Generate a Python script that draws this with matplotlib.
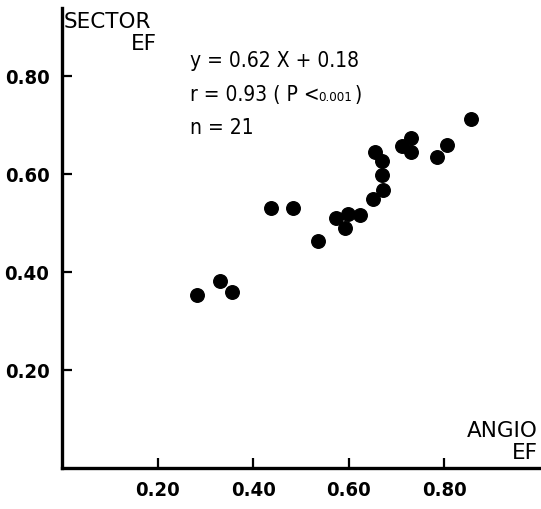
import matplotlib
matplotlib.use("Agg")
import matplotlib.pyplot as plt

# angio EF vs sector EF
angio_ef = [0.283, 0.330, 0.356, 0.438, 0.483, 0.536, 0.573, 0.599, 0.591, 0.624,
            0.650, 0.672, 0.669, 0.669, 0.655, 0.712, 0.731, 0.731, 0.784, 0.806, 0.855]
sector_ef = [0.353, 0.382, 0.360, 0.530, 0.530, 0.463, 0.511, 0.518, 0.489, 0.516,
             0.549, 0.567, 0.598, 0.627, 0.646, 0.658, 0.673, 0.646, 0.635, 0.659, 0.712]

xticks = [0.2, 0.4, 0.6, 0.8]
yticks = [0.2, 0.4, 0.6, 0.8]
ticklabels = ["0.20", "0.40", "0.60", "0.80"]

fig = plt.figure(figsize=(5.41, 5.09), dpi=100)
ax = fig.add_axes([62/541, 41/509, 479/541, 460/509])

ax.scatter(angio_ef, sector_ef, s=95, color="black", zorder=3)

ax.set_xlim(0, 1.002)
ax.set_ylim(0, 0.939)
ax.spines["top"].set_visible(False)
ax.spines["right"].set_visible(False)
ax.spines["left"].set_linewidth(2.4)
ax.spines["bottom"].set_linewidth(2.4)

tickfont = dict(family="DejaVu Sans", stretch="condensed", weight="bold", size=14.5)
ax.set_xticks(xticks)
ax.set_xticklabels(ticklabels, **tickfont)
ax.set_yticks(yticks)
ax.set_yticklabels(ticklabels, **tickfont)
ax.tick_params(direction="in", length=7, width=1.6)
ax.tick_params(axis="y", pad=9)
ax.tick_params(axis="x", pad=9)

lab = dict(family="DejaVu Sans", size=15.5, color="black")
fig.text(64/541, 1 - 28/509, "SECTOR", ha="left", va="baseline", **lab)
fig.text(157/541, 1 - 50/509, "EF", ha="right", va="baseline", **lab)
fig.text(538/541, 1 - 437/509, "ANGIO", ha="right", va="baseline", **lab)
fig.text(538/541, 1 - 459/509, "EF", ha="right", va="baseline", **lab)

eq = dict(family="DejaVu Sans", stretch="condensed", size=15, color="black")
fig.text(190/541, 1 - 67/509, "y = 0.62 X + 0.18", ha="left", va="baseline", **eq)
fig.text(190/541, 1 - 101/509, "r = 0.93 ( P <", ha="left", va="baseline", **eq)
fig.text(318/541, 1 - 101/509, "0.001", ha="left", va="baseline",
         family="DejaVu Sans", stretch="condensed", size=9.5)
fig.text(355/541, 1 - 101/509, ")", ha="left", va="baseline", **eq)
fig.text(190/541, 1 - 134/509, "n = 21", ha="left", va="baseline", **eq)

fig.savefig("out.png", dpi=100)
